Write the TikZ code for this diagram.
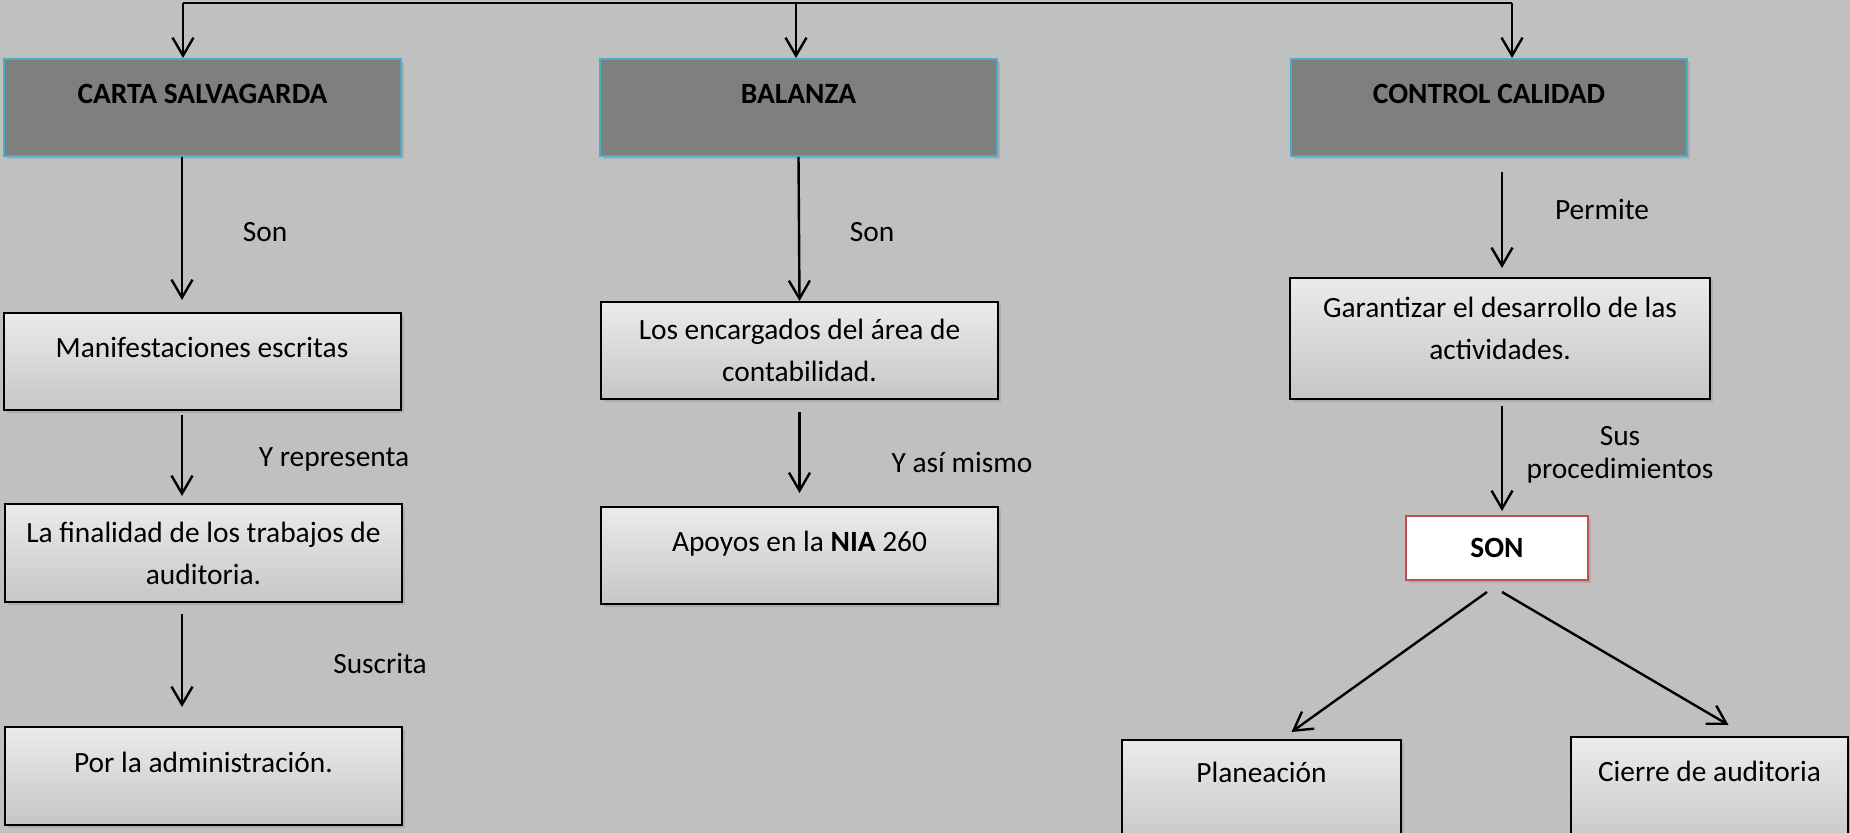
\documentclass[tikz,border=0pt]{standalone}
\usepackage{fontspec}
\setmainfont{Carlito}
\usetikzlibrary{arrows.meta,shadows}
\definecolor{bgsilver}{HTML}{C0C0C0}
\definecolor{darkfill}{HTML}{7F7F7F}
\definecolor{cyanedge}{HTML}{4BACC6}
\definecolor{rededge}{HTML}{C0504D}
\definecolor{boxtop}{HTML}{EBEBEB}
\definecolor{boxbot}{HTML}{C6C6C6}
\newcommand\mapfont{\fontsize{14.7}{21}\selectfont}
\tikzset{
  boxbase/.style={line width=1pt,minimum width=198.5pt,minimum height=48.5pt,align=center,
    drop shadow={shadow xshift=1.5pt,shadow yshift=-1.5pt,opacity=0.3}},
  headbox/.style={boxbase,draw=cyanedge,fill=darkfill,font=\mapfont\bfseries},
  lightbox/.style={boxbase,draw=black,top color=boxtop,bottom color=boxbot},
  sonbox/.style={boxbase,draw=rededge,fill=white,minimum width=91pt,minimum height=32pt,font=\mapfont\bfseries},
  topline/.style={text depth=#1},
  topline/.default=14pt,
  arr/.style={-{Straight Barb[length=9pt,width=10.5pt]},line width=1.2pt}
}
\begin{document}
\begin{tikzpicture}[x=0.5pt,y=-0.5pt,font=\mapfont]
\useasboundingbox (0,0) rectangle (1850,833);
\clip (0,0) rectangle (1850,833);
\fill[bgsilver] (0,0) rectangle (1850,833);
\coordinate (ta) at (183,3);
\coordinate (tb) at (796,3);
\coordinate (tc) at (1512,3);
\coordinate (cola) at (182,0);
\coordinate (colc) at (1502,0);
\node[headbox,topline] (carta) at (202.5,107.5) {CARTA SALVAGARDA};
\node[headbox,topline] (balanza) at (798.5,107.5) {BALANZA};
\node[headbox,topline,minimum width=198pt] (control) at (1489,107.5) {CONTROL CALIDAD};
\node[lightbox,topline] (manif) at (202,361.5) {Manifestaciones escritas};
\node[lightbox,minimum height=49pt] (finalidad) at (203.5,553) {La finalidad de los trabajos de\\auditoria.};
\node[lightbox,topline,minimum height=49pt] (admin) at (203.5,776) {Por la administración.};
\node[lightbox] (encargados) at (799.5,350.5) {Los encargados del área de\\contabilidad.};
\node[lightbox,topline] (apoyos) at (799.5,555.5) {Apoyos en la \textbf{NIA} 260};
\node[lightbox,topline=10.6pt,minimum width=210pt,minimum height=60.5pt] (garantizar) at (1500,338.5) {Garantizar el desarrollo de las\\actividades.};
\node[sonbox] (son) at (1497,548) {SON};
\node[lightbox,topline=21pt,minimum width=139.5pt,minimum height=53.5pt] (planeacion) at (1261.5,793.5) {Planeación};
\node[lightbox,topline=21pt,minimum width=138.5pt,minimum height=55.5pt] (cierre) at (1709.5,792.5) {Cierre de auditoria};
\node (son1) at (265,232) {Son};
\node (yrep) at (334,459) {Y representa};
\node (susc) at (380,663) {Suscrita};
\node (son2) at (872,232) {Son};
\node (yasi) at (962,462) {Y así mismo};
\node (permite) at (1602,209) {Permite};
\node[align=center,font=\fontsize{14.7}{16.5}\selectfont] (susproc) at (1620,455) {Sus\\procedimientos};
\draw[line width=1pt] (ta) -- (tc);
\draw[arr] (ta) -- (carta.north -| ta);
\draw[arr] (tb) -- (balanza.north -| tb);
\draw[arr] (tc) -- (control.north -| tc);
\draw[arr,shorten >=6pt] (carta.south -| cola) -- (manif.north -| cola);
\draw[arr,shorten <=2pt,shorten >=3.5pt] (manif.south -| cola) -- (finalidad.north -| cola);
\draw[arr,shorten <=5.5pt,shorten >=9.5pt] (finalidad.south -| cola) -- (admin.north -| cola);
\draw[arr] (balanza.south) -- (encargados.north);
\draw[arr,shorten <=6pt,shorten >=6.5pt] (encargados.south) -- (apoyos.north);
\draw[arr,shorten <=7.5pt,shorten >=4.5pt] (control.south -| colc) -- (garantizar.north -| colc);
\draw[arr,shorten <=3pt,shorten >=2pt] (garantizar.south -| colc) -- (son.north -| colc);
\draw[arr] ([xshift=-5pt,yshift=-5.5pt]son.south) -- ([xshift=15pt,yshift=3.5pt]planeacion.north);
\draw[arr] ([xshift=2.5pt,yshift=-5.5pt]son.south) -- ([xshift=9.5pt,yshift=5.5pt]cierre.north);
\end{tikzpicture}
\end{document}
